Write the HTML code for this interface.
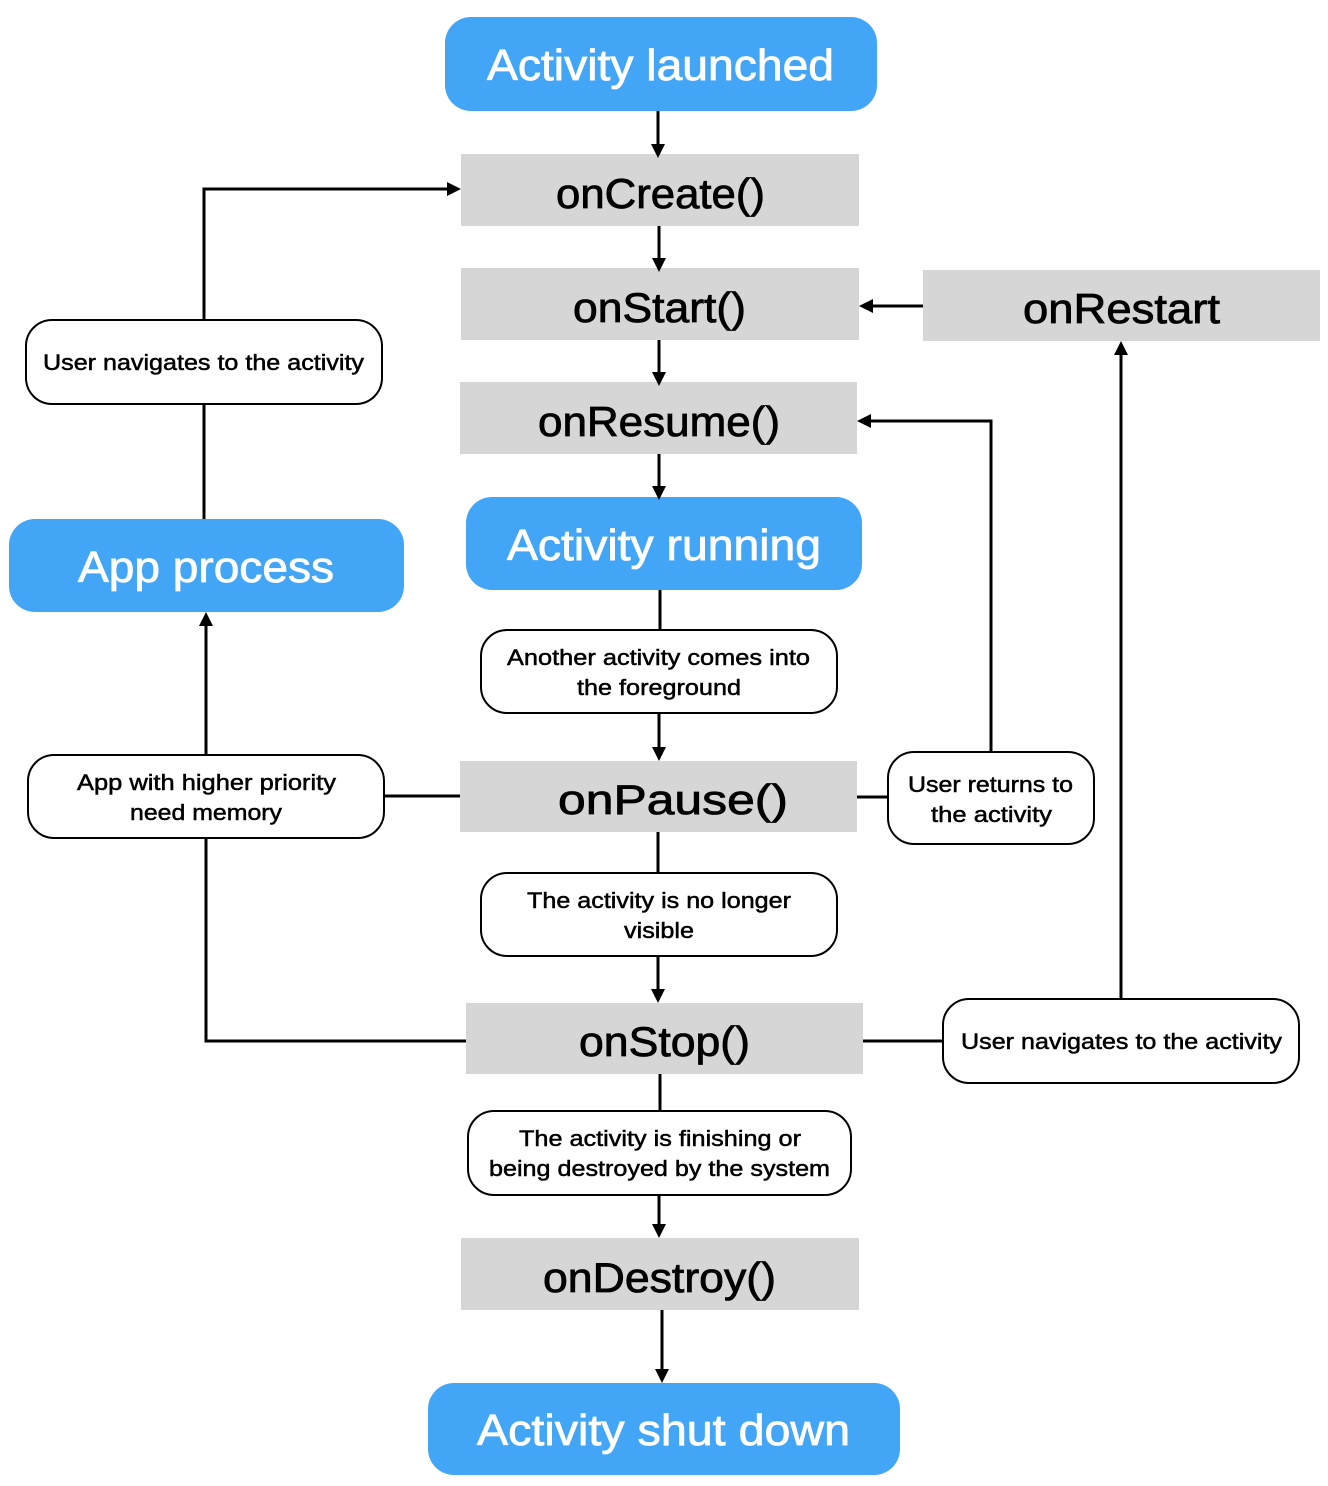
<!DOCTYPE html>
<html><head><meta charset="utf-8"><style>
html,body{margin:0;padding:0;background:#fff;}
svg{display:block;}
text{font-family:"Liberation Sans",Arial,sans-serif;}
</style></head><body>
<svg width="1328" height="1486" viewBox="0 0 1328 1486" xmlns="http://www.w3.org/2000/svg">
<g fill="#D6D6D6">
<rect x="461" y="154" width="398" height="72"/>
<rect x="461" y="268" width="398" height="72"/>
<rect x="923" y="270" width="397" height="71"/>
<rect x="460" y="382" width="397" height="72"/>
<rect x="460" y="761" width="397" height="71"/>
<rect x="466" y="1003" width="397" height="71"/>
<rect x="461" y="1238" width="398" height="72"/>
</g>
<g fill="#42A5F5">
<rect x="445" y="17" width="432" height="94" rx="26"/>
<rect x="466" y="497" width="396" height="93" rx="26"/>
<rect x="9" y="519" width="395" height="93" rx="26"/>
<rect x="428" y="1383" width="472" height="92" rx="26"/>
</g>
<g stroke="#000" stroke-width="3" fill="none">
<path d="M658 111V146"/>
<path d="M659 226V260"/>
<path d="M659 340V374"/>
<path d="M659 454V488"/>
<path d="M660 590V630"/>
<path d="M659 713V753"/>
<path d="M658 832V873"/>
<path d="M658 956V995"/>
<path d="M660 1074V1111"/>
<path d="M659 1195V1230"/>
<path d="M662 1310V1375"/>
<path d="M923 306H867"/>
<path d="M1121 999V349"/>
<path d="M863 1041H943"/>
<path d="M466 1041H206V838"/>
<path d="M206 755V620"/>
<path d="M384 796H460"/>
<path d="M857 797H888"/>
<path d="M991 752V421H865"/>
<path d="M204 519V404"/>
<path d="M204 320V189H453"/>
</g>
<g fill="#000">
<path d="M651 144L665 144L658 158Z"/>
<path d="M652 258L666 258L659 272Z"/>
<path d="M652 372L666 372L659 386Z"/>
<path d="M652 486L666 486L659 500Z"/>
<path d="M652 747L666 747L659 761Z"/>
<path d="M651 989L665 989L658 1003Z"/>
<path d="M652 1224L666 1224L659 1238Z"/>
<path d="M655 1369L669 1369L662 1383Z"/>
<path d="M873 299L873 313L859 306Z"/>
<path d="M1114 355L1128 355L1121 341Z"/>
<path d="M199 626L213 626L206 612Z"/>
<path d="M871 414L871 428L857 421Z"/>
<path d="M447 182L447 196L461 189Z"/>
</g>
<g fill="#fff" stroke="#000" stroke-width="2">
<rect x="26" y="320" width="356" height="84" rx="26"/>
<rect x="481" y="630" width="356" height="83" rx="26"/>
<rect x="28" y="755" width="356" height="83" rx="26"/>
<rect x="888" y="752" width="206" height="92" rx="26"/>
<rect x="481" y="873" width="356" height="83" rx="26"/>
<rect x="943" y="999" width="356" height="84" rx="26"/>
<rect x="468" y="1111" width="383" height="84" rx="26"/>
</g>
<g fill="#fff" stroke="#fff" stroke-width="0.8" font-size="44" lengthAdjust="spacingAndGlyphs">
<text x="487" y="80" textLength="347" lengthAdjust="spacingAndGlyphs">Activity launched</text>
<text x="507" y="560" textLength="314" lengthAdjust="spacingAndGlyphs">Activity running</text>
<text x="78" y="582" textLength="256" lengthAdjust="spacingAndGlyphs">App process</text>
<text x="477" y="1445" textLength="373" lengthAdjust="spacingAndGlyphs">Activity shut down</text>
</g>
<g fill="#000" stroke="#000" stroke-width="0.8" font-size="42">
<text x="556" y="208" textLength="209" lengthAdjust="spacingAndGlyphs">onCreate()</text>
<text x="573" y="322" textLength="173" lengthAdjust="spacingAndGlyphs">onStart()</text>
<text x="1023" y="323" textLength="197" lengthAdjust="spacingAndGlyphs">onRestart</text>
<text x="538" y="436" textLength="242" lengthAdjust="spacingAndGlyphs">onResume()</text>
<text x="558" y="814" textLength="230" lengthAdjust="spacingAndGlyphs">onPause()</text>
<text x="579" y="1056" textLength="171" lengthAdjust="spacingAndGlyphs">onStop()</text>
<text x="543" y="1292" textLength="233" lengthAdjust="spacingAndGlyphs">onDestroy()</text>
</g>
<g fill="#000" stroke="#000" stroke-width="0.5" font-size="22">
<text x="43" y="370" textLength="321" lengthAdjust="spacingAndGlyphs">User navigates to the activity</text>
<text x="507" y="665" textLength="303" lengthAdjust="spacingAndGlyphs">Another activity comes into</text>
<text x="577" y="695" textLength="164" lengthAdjust="spacingAndGlyphs">the foreground</text>
<text x="77" y="790" textLength="259" lengthAdjust="spacingAndGlyphs">App with higher priority</text>
<text x="130" y="820" textLength="152" lengthAdjust="spacingAndGlyphs">need memory</text>
<text x="908" y="792" textLength="165" lengthAdjust="spacingAndGlyphs">User returns to</text>
<text x="931" y="822" textLength="121" lengthAdjust="spacingAndGlyphs">the activity</text>
<text x="527" y="908" textLength="264" lengthAdjust="spacingAndGlyphs">The activity is no longer</text>
<text x="624" y="938" textLength="70" lengthAdjust="spacingAndGlyphs">visible</text>
<text x="961" y="1049" textLength="321" lengthAdjust="spacingAndGlyphs">User navigates to the activity</text>
<text x="519" y="1146" textLength="282" lengthAdjust="spacingAndGlyphs">The activity is finishing or</text>
<text x="489" y="1176" textLength="341" lengthAdjust="spacingAndGlyphs">being destroyed by the system</text>
</g>
</svg>
</body></html>
